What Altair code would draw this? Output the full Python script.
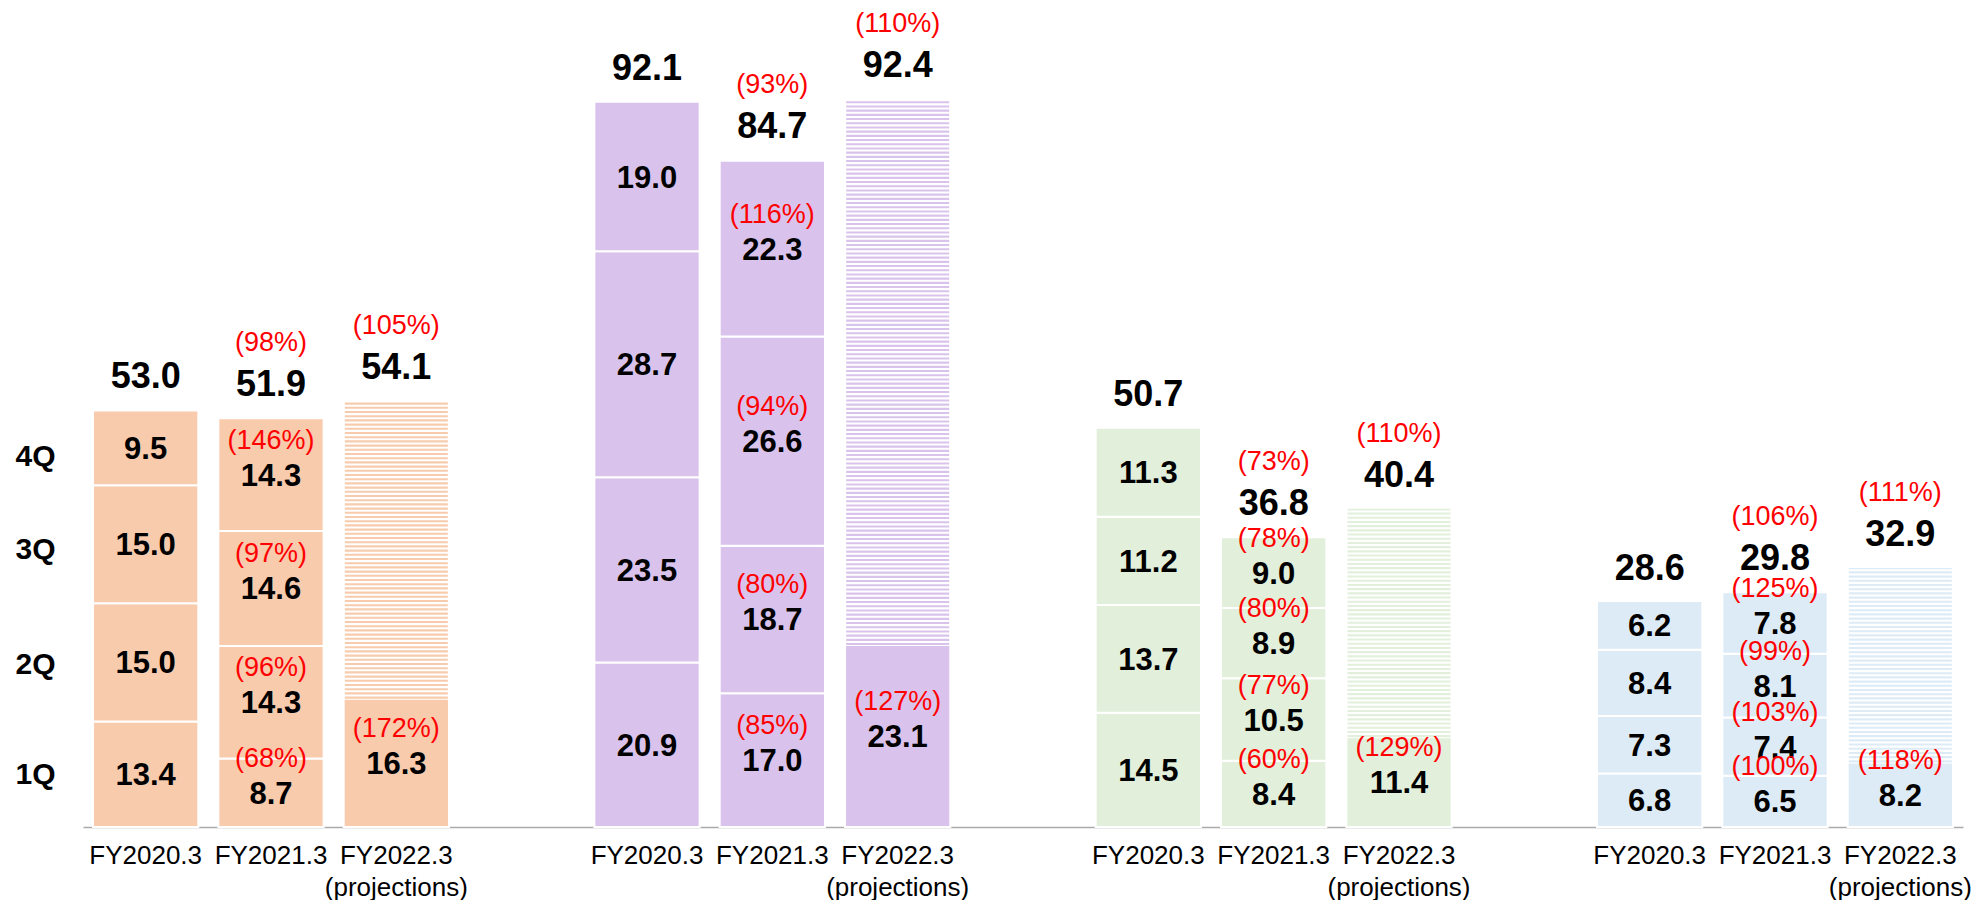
import altair as alt
import pandas as pd

FONT = "Liberation Sans"

segments = ["Segment A", "Segment B", "Segment C", "Segment D"]
seg_colors = ["#F8CBAD", "#D9C3EC", "#E2EFDA", "#DDEBF7"]
years = ["FY2020.3", "FY2021.3", "FY2022.3\n(projections)"]
quarters = ["1Q", "2Q", "3Q", "4Q"]

fy2020_q = [[13.4, 15.0, 15.0, 9.5], [20.9, 23.5, 28.7, 19.0],
            [14.5, 13.7, 11.2, 11.3], [6.8, 7.3, 8.4, 6.2]]
fy2020_total = [53.0, 92.1, 50.7, 28.6]

fy2021_q = [[8.7, 14.3, 14.6, 14.3], [17.0, 18.7, 26.6, 22.3],
            [8.4, 10.5, 8.9, 9.0], [6.5, 7.4, 8.1, 7.8]]
fy2021_q_pct = [[68, 96, 97, 146], [85, 80, 94, 116],
                [60, 77, 80, 78], [100, 103, 99, 125]]
fy2021_total = [51.9, 84.7, 36.8, 29.8]
fy2021_total_pct = [98, 93, 73, 106]

fy2022_1q = [16.3, 23.1, 11.4, 8.2]
fy2022_1q_pct = [172, 127, 129, 118]
fy2022_total = [54.1, 92.4, 40.4, 32.9]
fy2022_total_pct = [105, 110, 110, 111]

# left-hand quarter captions (axis tick values)
quarter_ticks = [6.7, 20.6, 35.2, 47.0]

# ---- build tables ----
slot_domain = []
seg_rows, tot_rows, stripe_rows = [], [], []
for i, seg in enumerate(segments):
    keys = [f"{seg}|{y}" for y in years]
    slot_domain += keys
    if i < len(segments) - 1:
        slot_domain.append(f"gap{i}|")
    # FY2020.3
    c = 0.0
    for q, v in zip(quarters, fy2020_q[i]):
        seg_rows.append(dict(seg=seg, slot=keys[0], q=q, v=f"{v:.1f}", y0=c, y1=c + v, pct=""))
        c += v
    tot_rows.append(dict(seg=seg, slot=keys[0], total=fy2020_total[i], t=f"{fy2020_total[i]:.1f}", tp=""))
    # FY2021.3
    c = 0.0
    for q, v, p in zip(quarters, fy2021_q[i], fy2021_q_pct[i]):
        seg_rows.append(dict(seg=seg, slot=keys[1], q=q, v=f"{v:.1f}", y0=c, y1=c + v, pct=f"({p}%)"))
        c += v
    tot_rows.append(dict(seg=seg, slot=keys[1], total=fy2021_total[i], t=f"{fy2021_total[i]:.1f}",
                         tp=f"({fy2021_total_pct[i]}%)"))
    # FY2022.3 (projections)
    v = fy2022_1q[i]
    seg_rows.append(dict(seg=seg, slot=keys[2], q="1Q", v=f"{v:.1f}", y0=0.0, y1=v,
                         pct=f"({fy2022_1q_pct[i]}%)"))
    stripe_rows.append(dict(seg=seg, slot=keys[2], y0=v, y1=fy2022_total[i]))
    tot_rows.append(dict(seg=seg, slot=keys[2], total=fy2022_total[i], t=f"{fy2022_total[i]:.1f}",
                         tp=f"({fy2022_total_pct[i]}%)"))

seg_df = pd.DataFrame(seg_rows)
seg_df["mid"] = (seg_df["y0"] + seg_df["y1"]) / 2
tot_df = pd.DataFrame(tot_rows)
stripe_df = pd.DataFrame(stripe_rows)

color_scale = alt.Scale(domain=segments, range=seg_colors)
yscale = alt.Scale(domain=[0, 104.0], nice=False, zero=True)

x_enc = alt.X(
    "slot:N",
    scale=alt.Scale(domain=slot_domain, paddingInner=0.16, paddingOuter=0.08),
    axis=alt.Axis(
        title=None,
        labelExpr="split(split(datum.value, '|')[1], '\\n')",
        ticks=False, labelAngle=0, labelFont=FONT, labelFontSize=26,
        labelColor="black", labelPadding=15, labelLineHeight=32,
        labelBaseline="top", labelOverlap=False, labelLimit=0,
        domainColor="#ABABAB", domainWidth=1.5, grid=False,
    ),
)

qexpr = " : ".join(f"datum.value == {t} ? '{q}'" for t, q in zip(quarter_ticks, quarters)) + " : ''"

bars = alt.Chart(seg_df).mark_bar(stroke="white", strokeWidth=2).encode(
    x=x_enc,
    y=alt.Y("y0:Q", scale=yscale, title=None,
            axis=alt.Axis(title=None, values=quarter_ticks, labelExpr=qexpr, domain=False,
                          ticks=False, grid=False, labelFont=FONT, labelFontSize=30,
                          labelFontWeight="bold", labelColor="black", labelPadding=28,
                          labelAlign="right", labelBaseline="middle")),
    y2="y1:Q",
    fill=alt.Fill("seg:N", scale=color_scale, legend=None),
)

stripes = alt.Chart(stripe_df).mark_rule(strokeWidth=103, strokeDash=[2.1, 2.1]).encode(
    x=alt.X("slot:N", title=None),
    y=alt.Y("y0:Q", scale=yscale, title=None),
    y2="y1:Q",
    color=alt.Color("seg:N", scale=color_scale, legend=None),
)

seg_val = alt.Chart(seg_df).mark_text(font=FONT, fontSize=31, fontWeight="bold", color="black",
                                      baseline="middle", dy=2).encode(
    x=alt.X("slot:N", title=None), y=alt.Y("mid:Q", scale=yscale, title=None), text="v:N")

seg_pct = alt.Chart(seg_df).transform_filter("datum.pct != ''").mark_text(
    font=FONT, fontSize=27, color="#FF0000", baseline="middle", dy=-34).encode(
    x=alt.X("slot:N", title=None), y=alt.Y("mid:Q", scale=yscale, title=None), text="pct:N")

tot_val = alt.Chart(tot_df).mark_text(font=FONT, fontSize=36, fontWeight="bold", color="black",
                                      baseline="middle", dy=-33).encode(
    x=alt.X("slot:N", title=None), y=alt.Y("total:Q", scale=yscale, title=None), text="t:N")

tot_pct = alt.Chart(tot_df).transform_filter("datum.tp != ''").mark_text(
    font=FONT, fontSize=27, color="#FF0000", baseline="middle", dy=-75).encode(
    x=alt.X("slot:N", title=None), y=alt.Y("total:Q", scale=yscale, title=None), text="tp:N")

chart = alt.layer(bars, stripes, seg_val, seg_pct, tot_val, tot_pct).properties(
    width=1880, height=819,
    autosize=alt.AutoSizeParams(type="none"),
    padding={"left": 75, "top": 0, "right": 10, "bottom": 73},
).configure(background="white").configure_view(stroke=None)

chart.save("out.html", embed_options={"renderer": "svg", "actions": False})
